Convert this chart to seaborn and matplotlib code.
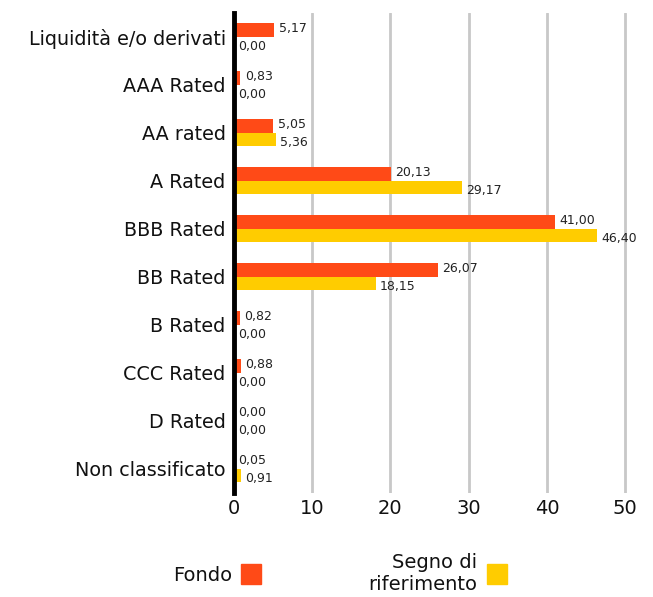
import seaborn as sns
import matplotlib.pyplot as plt
import pandas as pd
from matplotlib.lines import Line2D

categories = ["Liquidità e/o derivati", "AAA Rated", "AA rated", "A Rated", "BBB Rated",
              "BB Rated", "B Rated", "CCC Rated", "D Rated", "Non classificato"]
fondo = [5.17, 0.83, 5.05, 20.13, 41.00, 26.07, 0.82, 0.88, 0.00, 0.05]
riferimento = [0.00, 0.00, 5.36, 29.17, 46.40, 18.15, 0.00, 0.00, 0.00, 0.91]
series = ["Fondo", "Segno di\nriferimento"]
colors = ["#FF4A17", "#FFCC00"]

df = pd.DataFrame({
    "categoria": categories * 2,
    "valore": fondo + riferimento,
    "serie": [series[0]] * len(categories) + [series[1]] * len(categories),
})

sns.set_theme(style="white")
plt.rcParams["font.family"] = ["DejaVu Sans"]

fig = plt.figure(figsize=(6.53, 5.97), dpi=100)
ax = fig.add_axes([0.3583, 0.175, 0.605, 0.804])

sns.barplot(data=df, y="categoria", x="valore", hue="serie", order=categories,
            hue_order=series, palette=colors, width=0.56, orient="h",
            legend=False, ax=ax, saturation=1, linewidth=0)

# etichette dei valori
for i, cont in enumerate(ax.containers):
    dy = 1 if i == 0 else -2.5
    vals = fondo if i == 0 else riferimento
    for bar, v in zip(cont, vals):
        ax.annotate(f"{v:.2f}".replace(".", ","),
                    (bar.get_width(), bar.get_y() + bar.get_height() / 2),
                    xytext=(3, dy), textcoords="offset points",
                    ha="left", va="center", fontsize=9, color="#222222")

ax.set_xlim(0, 50.5)
ax.set_xticks([0, 10, 20, 30, 40, 50])
ax.xaxis.grid(True, color="#c8c8c8", linewidth=2)
ax.set_axisbelow(True)
for s in ["top", "right", "bottom"]:
    ax.spines[s].set_visible(False)
ax.spines["left"].set_linewidth(3.5)
ax.spines["left"].set_color("black")
ax.set_xlabel("")
ax.set_ylabel("")
ax.tick_params(axis="x", labelsize=14, length=0, pad=5, labelcolor="#111111")
ax.tick_params(axis="y", labelsize=13.8, length=0, pad=6, labelcolor="#111111")

handles = [Line2D([], [], marker="s", linestyle="", markersize=14,
                  markerfacecolor=c, markeredgecolor=c) for c in colors]
leg = fig.legend(handles, series, loc="center", bbox_to_anchor=(0.52, 0.04), ncol=2,
                 frameon=False, markerfirst=False, fontsize=14, columnspacing=5.5,
                 handletextpad=0.5, handlelength=1.0)
for t in leg.get_texts():
    t.set_multialignment("right")
    t.set_color("#111111")

fig.savefig("out.png", dpi=100)
